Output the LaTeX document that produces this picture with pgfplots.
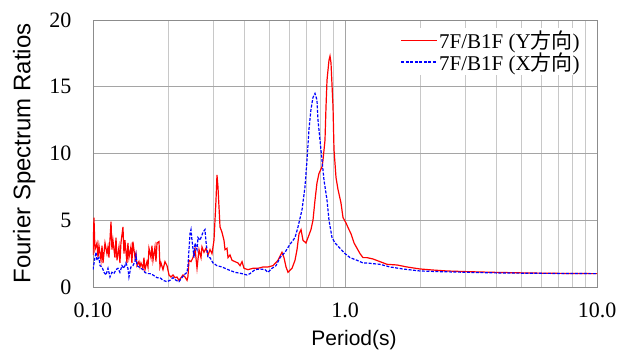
\documentclass[border=0pt]{standalone}
\usepackage{pgfplots}
\pgfplotsset{compat=1.18}
\usepackage{fontspec}
\setmainfont{Liberation Serif}
\newfontfamily\arial{Liberation Sans}
\newfontfamily\cjk{Noto Sans CJK JP}
\definecolor{gridmaj}{RGB}{165,165,165}
\definecolor{gridmin}{RGB}{200,200,200}
\definecolor{frame}{RGB}{140,140,140}
\begin{document}
\begin{tikzpicture}
\begin{axis}[
  scale only axis,
  width=504pt, height=267pt,
  xmode=log,
  xmin=0.1, xmax=10, ymin=0, ymax=20,
  xtick={0.1,1,10}, xticklabels={0.10,1.0,10.0},
  ytick={0,5,10,15,20}, yticklabels={0,5,10,15,20},
  major tick length=0pt, minor tick length=0pt,
  xmajorgrids=true, xminorgrids=true, ymajorgrids=true,
  major grid style={gridmaj, line width=0.9pt},
  minor grid style={gridmin, line width=0.9pt},
  axis line style={frame, line width=0.9pt},
  tick label style={font=\fontsize{22}{24}\selectfont},
  xticklabel style={yshift=-12pt},
  yticklabel style={xshift=-18pt},
  xlabel={Period(s)},
  ylabel={Fourier Spectrum Ratios},
  xlabel style={at={(axis description cs:0.518,-0.162)}, anchor=north, inner sep=0pt, font=\arial\fontsize{21}{24}\selectfont},
  ylabel style={at={(axis description cs:-0.114,0.5)}, anchor=south, rotate=0, inner sep=0pt, font=\arial\fontsize{24}{26}\selectfont},
  legend style={at={(axis description cs:0.972,0.97)}, anchor=north east, draw=none, fill=white,
    font=\fontsize{21}{23}\selectfont, inner sep=2pt, nodes={inner sep=1pt},
    /tikz/every even column/.append style={column sep=3pt}},
  legend cell align=left,
  legend image code/.code={\draw[#1] (0pt,0pt) -- (36pt,0pt);},
]
\addplot[red, line width=1.2pt] coordinates {
(0.1,2.4) (0.1009,5.2) (0.1018,2.8) (0.1037,3.3) (0.1047,2.2) (0.1056,3.1)
(0.1076,2.0) (0.1086,3.1) (0.1096,1.8) (0.1116,3.3) (0.1136,2.5) (0.1147,3.0)
(0.1157,2.2) (0.1179,4.9) (0.1189,2.8) (0.1200,3.5) (0.1222,2.2) (0.1234,3.7)
(0.1245,2.0) (0.1268,3.0) (0.1279,1.8) (0.1291,3.3) (0.1315,4.5) (0.1327,2.5)
(0.1339,3.5) (0.1364,1.8) (0.1376,3.3) (0.1389,2.2) (0.1414,3.0) (0.1427,1.8)
(0.1440,3.4) (0.1468,2.2) (0.1481,2.5) (0.1495,1.6) (0.1522,1.9) (0.1536,1.5)
(0.1550,1.8) (0.1579,1.4) (0.1593,2.2) (0.1608,1.3) (0.1638,1.9) (0.1653,1.5)
(0.1668,2.9) (0.1699,2.2) (0.1714,3.1) (0.1730,2.0) (0.1762,3.0) (0.1778,1.9)
(0.1795,3.3) (0.1828,3.4) (0.1844,1.5) (0.1861,1.8) (0.1896,1.3) (0.1931,1.9)
(0.1967,1.6) (0.2003,0.9) (0.2040,0.75) (0.2078,0.9) (0.2116,0.7) (0.2154,0.75)
(0.2194,0.5) (0.2235,0.7) (0.2276,0.9) (0.2318,0.75) (0.2361,0.5) (0.2382,0.8)
(0.2404,2.0) (0.2448,1.9) (0.2494,2.2) (0.2540,2.9) (0.2587,1.4) (0.2635,2.8)
(0.2683,2.2) (0.2707,3.0) (0.2757,2.6) (0.2808,2.9) (0.2860,2.4) (0.2913,2.8)
(0.2966,2.5) (0.3021,3.5) (0.3077,6.5) (0.3105,8.4) (0.3133,7.5) (0.3192,4.5)
(0.3250,4.1) (0.3310,3.5) (0.3341,2.8) (0.3402,2.9) (0.3434,2.2) (0.3497,2.4)
(0.3562,2.0) (0.3661,1.9) (0.3762,1.8) (0.3832,1.6) (0.3903,1.9) (0.3975,1.4)
(0.4122,1.3) (0.4314,1.4) (0.4517,1.4) (0.4728,1.5) (0.4948,1.5) (0.5180,1.6)
(0.5422,2.0) (0.5623,2.6) (0.5727,2.2) (0.5834,1.5) (0.5941,1.1) (0.6163,1.4)
(0.6334,2.0) (0.6451,2.8) (0.6571,4.0) (0.6692,4.3) (0.6813,3.5) (0.7002,3.3)
(0.7132,3.7) (0.7328,4.3) (0.7464,5.0) (0.7603,6.5) (0.7743,7.8) (0.7885,8.5)
(0.8104,9.0) (0.8179,9.5) (0.8330,11.0) (0.8407,13.5) (0.8485,15.5) (0.8640,17.0)
(0.8720,17.3) (0.8799,16.8) (0.8963,13.5) (0.9044,10.3) (0.9212,8.2) (0.9382,7.3)
(0.9640,6.3) (0.9820,5.2) (1.009,4.8) (1.037,4.3) (1.056,4.0) (1.086,3.3)
(1.116,2.9) (1.147,2.5) (1.179,2.2) (1.222,2.2) (1.291,2.1) (1.376,1.9)
(1.468,1.7) (1.608,1.65) (1.762,1.5) (1.985,1.35) (2.235,1.27) (2.540,1.2)
(3.049,1.15) (3.866,1.1) (5.276,1.05) (7.132,1.02) (10.0,1.0)
};
\addlegendentry{7F/B1F (Y{\cjk 方向})}
\addplot[blue, line width=1.2pt, dash pattern=on 3pt off 1.5pt] coordinates {
(0.1000,1.3) (0.1018,2.2) (0.1028,2.6) (0.1037,2.0) (0.1056,2.2) (0.1066,1.6)
(0.1086,1.5) (0.1106,1.1) (0.1126,0.9) (0.1147,1.4) (0.1168,0.75) (0.1189,1.1)
(0.1211,1.0) (0.1234,1.3) (0.1256,1.4) (0.1279,1.1) (0.1303,1.6) (0.1327,1.4)
(0.1351,1.8) (0.1376,1.4) (0.1389,0.75) (0.1414,1.5) (0.1440,1.6) (0.1468,1.9)
(0.1481,2.4) (0.1495,1.6) (0.1522,1.5) (0.1550,1.4) (0.1579,1.3) (0.1608,1.1)
(0.1638,1.0) (0.1683,1.0) (0.1730,0.9) (0.1795,0.7) (0.1844,0.7) (0.1896,0.5)
(0.1967,0.4) (0.2021,0.5) (0.2078,0.7) (0.2136,0.5) (0.2194,0.4) (0.2255,0.7)
(0.2297,0.9) (0.2361,1.1) (0.2382,1.6) (0.2404,2.8) (0.2426,4.0) (0.2448,4.3)
(0.2471,3.5) (0.2517,2.2) (0.2540,3.3) (0.2587,2.8) (0.2610,3.7) (0.2659,3.5)
(0.2707,3.9) (0.2732,4.1) (0.2782,4.3) (0.2808,3.4) (0.2860,2.2) (0.2913,2.2)
(0.2994,1.8) (0.3105,1.6) (0.3250,1.5) (0.3434,1.3) (0.3661,1.1) (0.3903,1.0)
(0.4084,0.9) (0.4198,1.0) (0.4394,1.3) (0.4600,1.35) (0.4815,1.3) (0.4948,1.1)
(0.5133,1.4) (0.5324,1.6) (0.5523,2.2) (0.5780,2.6) (0.6050,3.2) (0.6334,3.7)
(0.6511,4.5) (0.6754,5.8) (0.6939,7.5) (0.7067,9.5) (0.7195,11.8) (0.7328,13.3)
(0.7464,14.2) (0.7603,14.5) (0.7743,14.0) (0.7815,12.5) (0.7958,11.0) (0.8104,9.5)
(0.8255,8.0) (0.8485,6.5) (0.8640,5.0) (0.8881,3.7) (0.9128,3.3) (0.9554,2.9)
(1.000,2.5) (1.047,2.2) (1.116,2.0) (1.179,1.8) (1.222,1.8) (1.291,1.75)
(1.376,1.7) (1.509,1.5) (1.699,1.35) (1.985,1.2) (2.382,1.15) (3.049,1.1)
(4.122,1.05) (6.334,1.02) (10.0,1.0)
};
\addlegendentry{7F/B1F (X{\cjk 方向})}
\end{axis}
\pgfresetboundingbox
\path (current axis.south west) ++(-93pt,-65pt) rectangle ++(617pt,352pt);
\end{tikzpicture}
\end{document}
